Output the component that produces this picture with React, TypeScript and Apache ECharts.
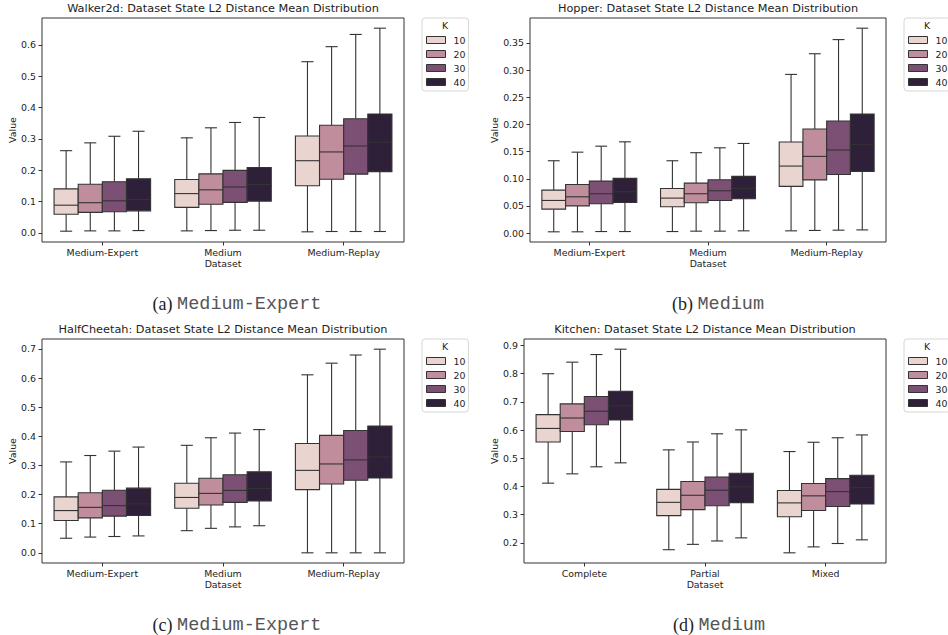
import React, { useEffect, useRef } from "react";
import * as echarts from "echarts";

// ---------- DATA ----------
const kLevels = ["10", "20", "30", "40"];
const kColors = ["#ead4d0", "#c08d9c", "#7b5074", "#2e2039"];

const locomotionCats = ["Medium-Expert", "Medium", "Medium-Replay"];
const kitchenCats = ["Complete", "Partial", "Mixed"];

// each row: [whisker low, Q1, median, Q3, whisker high] per dataset category
const walkerK10 = [[0.005, 0.059, 0.088, 0.140, 0.262], [0.006, 0.081, 0.125, 0.170, 0.303], [0.003, 0.150, 0.230, 0.309, 0.546]];
const walkerK20 = [[0.006, 0.065, 0.096, 0.155, 0.287], [0.007, 0.091, 0.137, 0.188, 0.335], [0.004, 0.171, 0.258, 0.343, 0.594]];
const walkerK30 = [[0.006, 0.067, 0.102, 0.163, 0.308], [0.008, 0.097, 0.146, 0.199, 0.352], [0.004, 0.187, 0.277, 0.364, 0.633]];
const walkerK40 = [[0.007, 0.070, 0.106, 0.172, 0.324], [0.008, 0.101, 0.154, 0.208, 0.368], [0.004, 0.195, 0.289, 0.379, 0.653]];

const hopperK10 = [[0.0025, 0.0442, 0.0602, 0.0792, 0.1332], [0.003, 0.0485, 0.0645, 0.0823, 0.1332], [0.0043, 0.086, 0.1234, 0.1676, 0.292]];
const hopperK20 = [[0.0025, 0.0503, 0.0669, 0.0896, 0.149], [0.0037, 0.0559, 0.0725, 0.0921, 0.148], [0.005, 0.098, 0.1412, 0.1916, 0.330]];
const hopperK30 = [[0.003, 0.054, 0.0725, 0.0958, 0.160], [0.0037, 0.060, 0.078, 0.0982, 0.157], [0.0055, 0.108, 0.153, 0.2063, 0.356]];
const hopperK40 = [[0.003, 0.0565, 0.0761, 0.1007, 0.168], [0.0043, 0.0632, 0.0823, 0.1044, 0.165], [0.006, 0.1136, 0.1627, 0.219, 0.377]];

const cheetahK10 = [[0.050, 0.111, 0.145, 0.192, 0.312], [0.076, 0.153, 0.190, 0.239, 0.369], [0.0, 0.217, 0.283, 0.375, 0.611]];
const cheetahK20 = [[0.054, 0.120, 0.156, 0.206, 0.334], [0.084, 0.164, 0.204, 0.256, 0.395], [0.0, 0.236, 0.305, 0.403, 0.651]];
const cheetahK30 = [[0.056, 0.126, 0.162, 0.215, 0.349], [0.089, 0.173, 0.214, 0.268, 0.411], [0.0, 0.249, 0.319, 0.420, 0.679]];
const cheetahK40 = [[0.058, 0.128, 0.168, 0.222, 0.363], [0.093, 0.178, 0.221, 0.278, 0.423], [0.0, 0.257, 0.329, 0.435, 0.699]];

const kitchenK10 = [[0.412, 0.558, 0.606, 0.655, 0.800], [0.176, 0.297, 0.344, 0.390, 0.530], [0.165, 0.293, 0.342, 0.386, 0.524]];
const kitchenK20 = [[0.445, 0.595, 0.643, 0.693, 0.841], [0.195, 0.318, 0.369, 0.418, 0.558], [0.186, 0.315, 0.367, 0.411, 0.557]];
const kitchenK30 = [[0.470, 0.619, 0.667, 0.719, 0.868], [0.207, 0.332, 0.387, 0.434, 0.587], [0.198, 0.329, 0.382, 0.428, 0.573]];
const kitchenK40 = [[0.484, 0.636, 0.686, 0.738, 0.887], [0.218, 0.343, 0.399, 0.447, 0.601], [0.211, 0.338, 0.396, 0.440, 0.583]];

const walkerTicks = [0.0, 0.1, 0.2, 0.3, 0.4, 0.5, 0.6];
const hopperTicks = [0.0, 0.05, 0.1, 0.15, 0.2, 0.25, 0.3, 0.35];
const cheetahTicks = [0.0, 0.1, 0.2, 0.3, 0.4, 0.5, 0.6, 0.7];
const kitchenTicks = [0.2, 0.3, 0.4, 0.5, 0.6, 0.7, 0.8, 0.9];

const titles = [
  "Walker2d: Dataset State L2 Distance Mean Distribution",
  "Hopper: Dataset State L2 Distance Mean Distribution",
  "HalfCheetah: Dataset State L2 Distance Mean Distribution",
  "Kitchen: Dataset State L2 Distance Mean Distribution",
];
const captionLetters = ["(a)", "(b)", "(c)", "(d)"];
const captionNames = ["Medium-Expert", "Medium", "Medium-Expert", "Medium"];

// ---------- LAYOUT ----------
const FONT = "DejaVu Sans";
const TEXT = "#222222";
const LINE = "#333333";

const panels = [
  { cats: locomotionCats, data: [walkerK10, walkerK20, walkerK30, walkerK40], ticks: walkerTicks, dec: 1,
    grid: { left: 42, top: 18, width: 362, height: 224 }, nameGap: 25, legend: { left: 422, top: 18 }, caption: { x: 237, y: 304 } },
  { cats: locomotionCats, data: [hopperK10, hopperK20, hopperK30, hopperK40], ticks: hopperTicks, dec: 2,
    grid: { left: 530, top: 18, width: 356, height: 224 }, nameGap: 31, legend: { left: 904, top: 18 }, caption: { x: 718, y: 304 } },
  { cats: locomotionCats, data: [cheetahK10, cheetahK20, cheetahK30, cheetahK40], ticks: cheetahTicks, dec: 1,
    grid: { left: 42, top: 339, width: 362, height: 224 }, nameGap: 25, legend: { left: 422, top: 339 }, caption: { x: 237, y: 625 } },
  { cats: kitchenCats, data: [kitchenK10, kitchenK20, kitchenK30, kitchenK40], ticks: kitchenTicks, dec: 1,
    grid: { left: 524, top: 339, width: 362, height: 224 }, nameGap: 25, legend: { left: 904, top: 339 }, caption: { x: 719, y: 625 } },
];

function buildOption() {
  const grid: any[] = [];
  const xAxis: any[] = [];
  const yAxis: any[] = [];
  const series: any[] = [];
  const legend: any[] = [];
  const graphic: any[] = [];

  panels.forEach((p, pi) => {
    grid.push({ ...p.grid, show: true, borderColor: LINE, borderWidth: 1, backgroundColor: "transparent" });

    let lo = Infinity, hi = -Infinity;
    p.data.forEach((arr) => arr.forEach((row) => { lo = Math.min(lo, row[0]); hi = Math.max(hi, row[4]); }));
    const pad = (hi - lo) * 0.05;

    xAxis.push({
      gridIndex: pi, type: "category", data: p.cats, boundaryGap: true,
      axisLine: { show: false, onZero: false },
      axisTick: { show: true, alignWithLabel: true, length: 3.5, lineStyle: { color: LINE } },
      axisLabel: { fontSize: 9.4, fontFamily: FONT, color: TEXT, margin: 6 },
      splitLine: { show: false },
      name: "Dataset", nameLocation: "middle", nameGap: 17,
      nameTextStyle: { fontSize: 9.4, fontFamily: FONT, color: TEXT },
    });
    yAxis.push({
      gridIndex: pi, type: "value", min: lo - pad, max: hi + pad,
      axisLine: { show: false },
      splitLine: { show: false },
      axisTick: { show: true, length: 3.5, lineStyle: { color: LINE }, customValues: p.ticks },
      axisLabel: {
        customValues: p.ticks, fontSize: 9.4, fontFamily: FONT, color: TEXT, margin: 6,
        formatter: (v: number) => v.toFixed(p.dec),
      },
      name: "Value", nameLocation: "middle", nameGap: p.nameGap,
      nameTextStyle: { fontSize: 9.4, fontFamily: FONT, color: TEXT },
    });

    p.data.forEach((arr, k) => {
      const color = kColors[k];
      series.push({
        type: "custom", name: kLevels[k], xAxisIndex: pi, yAxisIndex: pi,
        itemStyle: { color, borderColor: LINE, borderWidth: 1 },
        encode: { x: 0, y: [1, 2, 3, 4, 5] },
        data: arr.map((row, ci) => [ci, ...row]),
        renderItem: (params: any, api: any) => {
          const cat = api.value(0);
          const center = api.coord([cat, 0])[0];
          const band = api.size([1, 0])[0];
          const w = (band * 0.8) / 4;
          const x0 = center - band * 0.4 + k * w;
          const xc = x0 + w / 2;
          const y = (d: number) => api.coord([cat, api.value(d)])[1];
          const yMin = y(1), yQ1 = y(2), yMed = y(3), yQ3 = y(4), yMax = y(5);
          const ls = { stroke: LINE, lineWidth: 1.1 };
          return {
            type: "group",
            children: [
              { type: "line", shape: { x1: xc, y1: yMin, x2: xc, y2: yQ1 }, style: ls },
              { type: "line", shape: { x1: xc, y1: yQ3, x2: xc, y2: yMax }, style: ls },
              { type: "line", shape: { x1: xc - w / 4, y1: yMin, x2: xc + w / 4, y2: yMin }, style: ls },
              { type: "line", shape: { x1: xc - w / 4, y1: yMax, x2: xc + w / 4, y2: yMax }, style: ls },
              { type: "rect", shape: { x: x0, y: yQ3, width: w, height: yQ1 - yQ3 }, style: { fill: color, stroke: LINE, lineWidth: 1.1 } },
              { type: "line", shape: { x1: x0, y1: yMed, x2: x0 + w, y2: yMed }, style: ls },
            ],
          };
        },
      });
    });

    legend.push({
      data: kLevels, orient: "vertical", left: p.legend.left, top: p.legend.top,
      icon: "rect", itemWidth: 19, itemHeight: 7, itemGap: 2,
      padding: [16, 3, 3, 4],
      borderColor: "#d6d6d6", borderWidth: 1, borderRadius: 3, backgroundColor: "#ffffff",
      selectedMode: false,
      itemStyle: { borderColor: LINE, borderWidth: 1 },
      textStyle: { fontSize: 9.4, lineHeight: 12, fontFamily: FONT, color: TEXT, padding: [0, 0, 0, 3] },
    });

    graphic.push({
      type: "text", x: p.legend.left + 23, y: p.legend.top + 7.5, z: 100,
      style: { text: "K", fontSize: 9.4, fontFamily: FONT, fill: TEXT, align: "center", verticalAlign: "middle" },
    });

    graphic.push({
      type: "text", x: p.grid.left + p.grid.width / 2, y: p.grid.top - 10, z: 100,
      style: { text: titles[pi], fontSize: 11.3, fontFamily: FONT, fill: TEXT, align: "center", verticalAlign: "middle" },
    });

    graphic.push({
      type: "text", x: p.caption.x, y: p.caption.y, z: 100,
      style: {
        text: "{s|" + captionLetters[pi] + "} {m|" + captionNames[pi] + "}",
        fontSize: 18, fontFamily: "Liberation Serif", fill: TEXT, align: "center", verticalAlign: "middle",
        rich: {
          s: { fontSize: 18, fontFamily: "Liberation Serif", fill: TEXT },
          m: { fontSize: 18.5, fontFamily: "Liberation Mono", fill: "#555555" },
        },
      },
    });
  });

  return {
    animation: false,
    backgroundColor: "#ffffff",
    grid, xAxis, yAxis, series, legend, graphic,
  };
}

export default function App() {
  const ref = useRef<HTMLDivElement>(null);
  useEffect(() => {
    if (!ref.current) return;
    const chart = echarts.init(ref.current, undefined, { renderer: "svg" });
    chart.setOption(buildOption() as any);
    return () => chart.dispose();
  }, []);
  return (
    <div
      ref={ref}
      style={{ position: "absolute", left: 0, top: 0, width: 948, height: 635, background: "#fff" }}
    />
  );
}
